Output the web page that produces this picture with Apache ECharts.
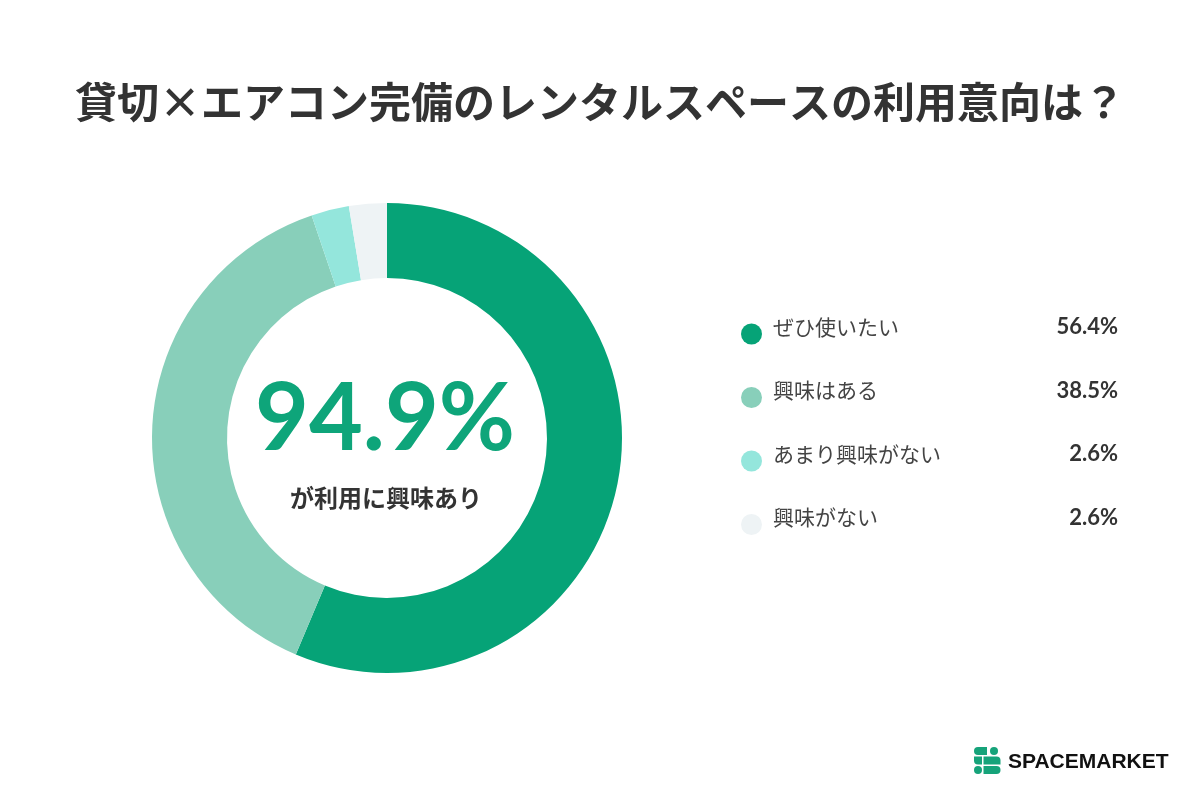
<!DOCTYPE html>
<html>
<head>
<meta charset="utf-8">
<script src="https://cdn.jsdelivr.net/npm/echarts@6/dist/echarts.min.js"></script>
<style>
  html, body { margin: 0; padding: 0; background: #fff; }
  #chart { width: 1200px; height: 800px; }
</style>
</head>
<body>
<div id="chart"></div>
<script>
// 回答項目と割合(%)
const categories = ['ぜひ使いたい', '興味はある', 'あまり興味がない', '興味がない']
const values = [56.4, 38.5, 2.6, 2.6]
const colors = ['#06a377', '#88cfba', '#94e6dc', '#eef3f5']
const totalText = '94.9%'
const totalLabel = 'が利用に興味あり'

const font = '"Noto Sans CJK JP", "Noto Sans", sans-serif'
const numFont = 'Lato, Roboto, sans-serif'
const chart = echarts.init(document.getElementById('chart'))

const pieData = categories.map((name, i) => ({
  name: name,
  value: values[i],
  itemStyle: { color: colors[i] }
}))

const green = '#16a37a'

const option = {
  backgroundColor: '#fff',
  title: {
    text: '貸切×エアコン完備のレンタルスペースの利用意向は？',
    left: 'center',
    top: 76,
    textStyle: { fontFamily: font, fontSize: 42, fontWeight: 'bold', color: '#333' }
  },
  legend: {
    orient: 'vertical',
    left: 736,
    top: 311,
    icon: 'circle',
    itemWidth: 21,
    itemHeight: 21,
    itemGap: 35,
    selectedMode: false,
    formatter: function (name) {
      const i = categories.indexOf(name)
      return '{n|' + name + '}{v|' + values[i].toFixed(1) + '%}'
    },
    textStyle: {
      fontFamily: font,
      rich: {
        n: { fontFamily: font, fontSize: 21, color: '#444', width: 270, padding: [0, 0, 14, 6] },
        v: { fontFamily: numFont, fontSize: 22, fontWeight: 'bold', color: '#333', width: 75, align: 'right', padding: [0, 0, 14, 0] }
      }
    },
    data: categories
  },
  graphic: [
    {
      type: 'text',
      x: 385,
      y: 420,
      style: {
        text: totalText,
        fontFamily: numFont,
        fontSize: 93,
        fontWeight: 'bold',
        fill: '#0ea57a',
        align: 'center',
        verticalAlign: 'middle'
      }
    },
    {
      type: 'text',
      x: 386,
      y: 498,
      style: {
        text: totalLabel,
        fontFamily: font,
        fontSize: 24,
        fontWeight: 'bold',
        fill: '#333',
        align: 'center',
        verticalAlign: 'middle'
      }
    },
    // ロゴ
    {
      type: 'group',
      x: 974,
      y: 747,
      children: [
        { type: 'rect', shape: { x: 0, y: 0, width: 13, height: 8, r: [4, 0, 0, 4] }, style: { fill: green } },
        { type: 'circle', shape: { cx: 20, cy: 4, r: 4 }, style: { fill: green } },
        { type: 'rect', shape: { x: 0, y: 9.5, width: 8, height: 8, r: [0, 0, 0, 4] }, style: { fill: green } },
        { type: 'rect', shape: { x: 9.5, y: 9.5, width: 17, height: 8, r: [0, 4, 0, 0] }, style: { fill: green } },
        { type: 'circle', shape: { cx: 4, cy: 23, r: 4 }, style: { fill: green } },
        { type: 'rect', shape: { x: 9.5, y: 19, width: 17, height: 8, r: [0, 4, 4, 0] }, style: { fill: green } }
      ]
    },
    {
      type: 'text',
      x: 1008,
      y: 762,
      style: {
        text: 'SPACEMARKET',
        fontFamily: '"Liberation Sans", sans-serif',
        fontSize: 21,
        fontWeight: 'bold',
        fill: '#111',
        align: 'left',
        verticalAlign: 'middle'
      }
    }
  ],
  series: [
    {
      type: 'pie',
      center: [387, 438],
      radius: [160, 235],
      startAngle: 90,
      clockwise: true,
      silent: true,
      label: { show: false },
      labelLine: { show: false },
      itemStyle: { borderWidth: 0 },
      data: pieData
    }
  ]
}

option && chart.setOption(option)
</script>
</body>
</html>
